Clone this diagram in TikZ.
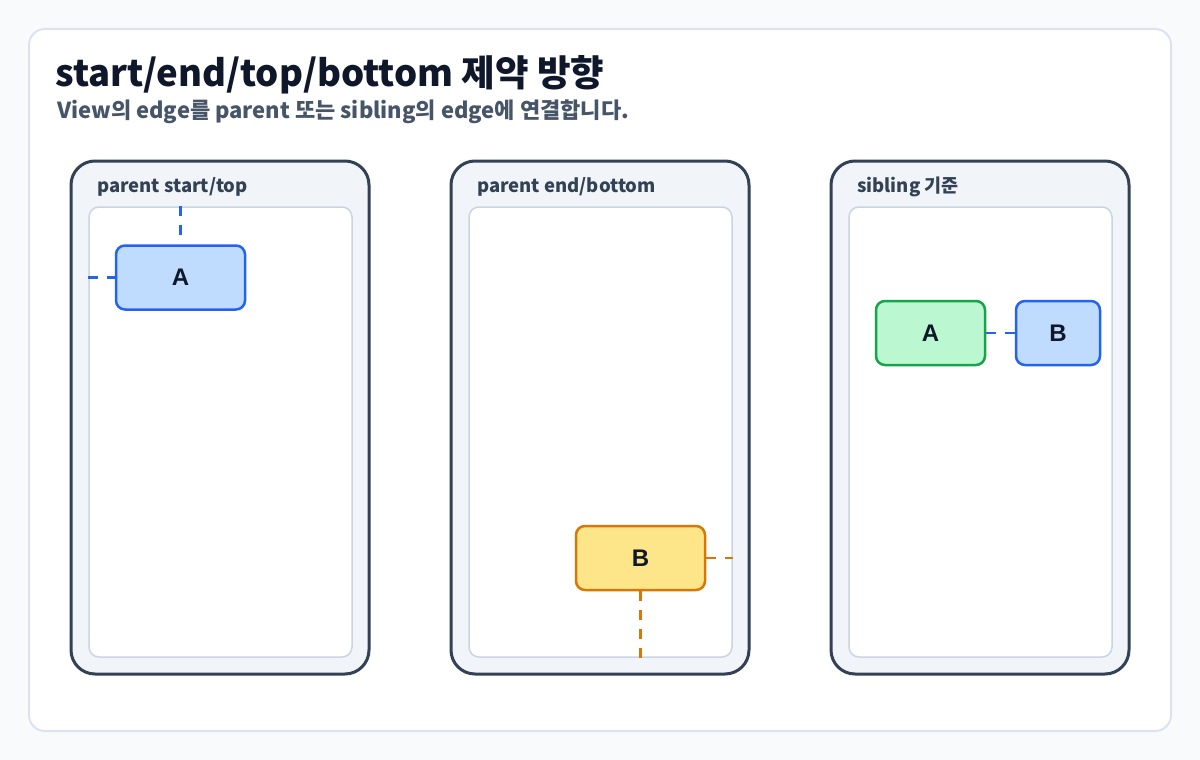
\documentclass[tikz,border=0pt]{standalone}
\usepackage{fontspec}
\setmainfont{Noto Sans CJK KR}
\newfontfamily\boxfont{Liberation Sans}
\usetikzlibrary{positioning}

\definecolor{pagebg}{HTML}{F8FAFC}
\definecolor{cardline}{HTML}{DCE3EE}
\definecolor{panelbg}{HTML}{F1F5F9}
\definecolor{panelline}{HTML}{334155}
\definecolor{frameline}{HTML}{CBD5E1}
\definecolor{titleink}{HTML}{0F172A}
\definecolor{subink}{HTML}{475569}
\definecolor{blueline}{HTML}{2563EB}
\definecolor{bluefill}{HTML}{BFDBFE}
\definecolor{orangeline}{HTML}{D97706}
\definecolor{orangefill}{HTML}{FDE68A}
\definecolor{greenline}{HTML}{16A34A}
\definecolor{greenfill}{HTML}{BBF7D0}

\begin{document}
\begin{tikzpicture}[x=1pt, y=-1pt,
    panel/.style={draw=panelline, line width=3pt, fill=panelbg, rounded corners=24pt,
        minimum width=298pt, minimum height=513pt, inner sep=0pt},
    frame/.style={draw=frameline, line width=1.5pt, fill=white, rounded corners=10pt,
        minimum width=263pt, minimum height=450pt, inner sep=0pt},
    paneltitle/.style={anchor=base west, inner sep=0pt, text=panelline, font=\fontsize{18.5}{22}\selectfont\bfseries},
    view/.style={draw=#1line, fill=#1fill, line width=2.5pt, rounded corners=9pt,
        minimum height=64pt, inner sep=0pt, text=titleink, font=\boxfont\fontsize{24}{27}\selectfont\bfseries},
    link/.style={draw=#1line, line width=2.5pt, dash pattern=on 10pt off 9pt}]

    % page and card
    \fill[pagebg] (0,0) rectangle (1200,760);
    \useasboundingbox (0,0) rectangle (1200,760);
    \draw[cardline, line width=2pt, fill=white, rounded corners=16pt] (29,29) rectangle (1171,731);

    \node[anchor=base west, text=titleink, inner sep=0pt,
        font=\fontsize{36.5}{40}\selectfont\bfseries] (title) at (55,87) {start/end/top/bottom 제약 방향};
    \node[anchor=base west, text=subink, inner sep=0pt,
        font=\fontsize{22}{26}\selectfont\bfseries] (subtitle) at (57,118)
        {View의 edge를 parent 또는 sibling의 edge에 연결합니다.};

    % three panels
    \foreach[count=\i] \x/\lbl in {220/{parent start/top}, 600/{parent end/bottom}, 980/{sibling 기준}} {
        \node[panel] (p\i) at (\x,417.5) {};
        \node[frame] (f\i) at (\x+0.5,432) {};
        \node[paneltitle] (t\i) at (\x-123,192) {\lbl};
    }

    % parent start/top
    \node[view=blue, minimum width=129pt] (a1) at (180.5,277.5) {\raisebox{-2pt}{A}};
    \draw[link=blue] (a1.north |- f1.north) -- (a1.north);
    \draw[link=blue] (a1.west -| f1.west) -- (a1.west);

    % parent end/bottom
    \node[view=orange, minimum width=129pt] (b2) at (640.5,558) {\raisebox{-2pt}{B}};
    \draw[link=orange] (b2.east) -- (b2.east -| f2.east);
    \draw[link=orange] (b2.south) -- (b2.south |- f2.south);

    % sibling
    \node[view=green, minimum width=109pt] (a3) at (930.5,333) {\raisebox{-2pt}{A}};
    \node[view=blue, minimum width=84pt] (b3) at (1058,333) {\raisebox{-2pt}{B}};
    \draw[link=blue] (a3.east) -- (b3.west);
\end{tikzpicture}
\end{document}
